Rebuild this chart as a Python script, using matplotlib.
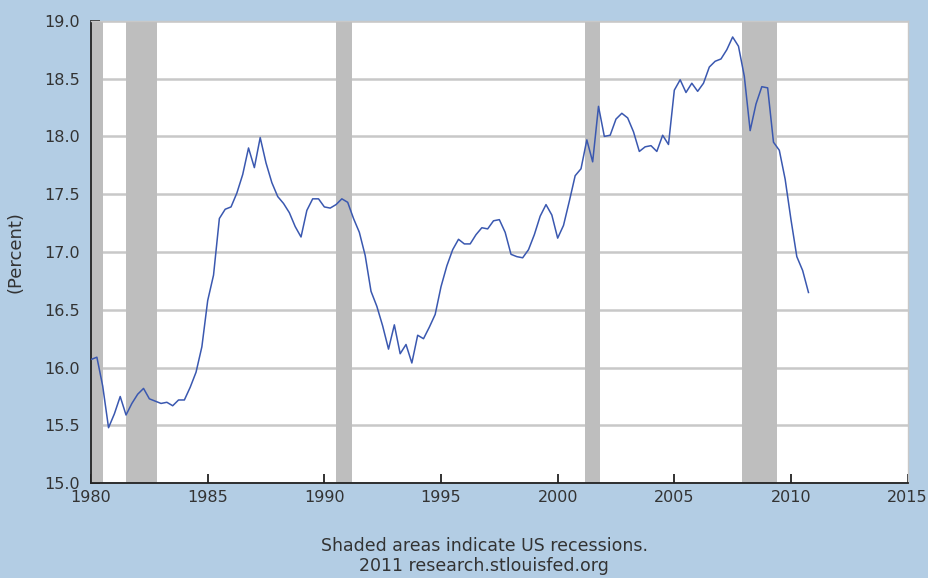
import numpy as np
import matplotlib.pyplot as plt

# quarterly values, 1980Q1 .. 2010Q4
start_year = 1980
values = [
    16.07, 16.09, 15.84, 15.48, 15.60, 15.75, 15.59, 15.69,
    15.77, 15.82, 15.73, 15.71, 15.69, 15.70, 15.67, 15.72,
    15.72, 15.83, 15.96, 16.18, 16.58, 16.80, 17.29, 17.37,
    17.39, 17.51, 17.67, 17.90, 17.73, 17.99, 17.77, 17.60,
    17.48, 17.42, 17.34, 17.22, 17.13, 17.36, 17.46, 17.46,
    17.39, 17.38, 17.41, 17.46, 17.43, 17.29, 17.17, 16.97,
    16.66, 16.53, 16.36, 16.16, 16.37, 16.12, 16.20, 16.04,
    16.28, 16.25, 16.35, 16.46, 16.70, 16.88, 17.02, 17.11,
    17.07, 17.07, 17.15, 17.21, 17.20, 17.27, 17.28, 17.17,
    16.98, 16.96, 16.95, 17.02, 17.15, 17.31, 17.41, 17.32,
    17.12, 17.23, 17.44, 17.66, 17.72, 17.97, 17.78, 18.26,
    18.00, 18.01, 18.15, 18.20, 18.16, 18.04, 17.87, 17.91,
    17.92, 17.87, 18.01, 17.93, 18.40, 18.49, 18.38, 18.46,
    18.39, 18.46, 18.60, 18.65, 18.67, 18.75, 18.86, 18.78,
    18.52, 18.05, 18.28, 18.43, 18.42, 17.95, 17.88, 17.63,
    17.28, 16.96, 16.84, 16.65,
]
recessions = [(1980.0, 1980.5), (1981.5, 1982.83), (1990.5, 1991.17),
              (2001.17, 2001.83), (2007.92, 2009.42)]
x_ticks = [1980, 1985, 1990, 1995, 2000, 2005, 2010, 2015]
y_ticks = [15.0, 15.5, 16.0, 16.5, 17.0, 17.5, 18.0, 18.5, 19.0]

t = start_year + np.arange(len(values)) / 4.0

bg = '#b3cde4'
fig = plt.figure(figsize=(9.29, 5.78), dpi=100, facecolor=bg)
ax = fig.add_axes([0.098, 0.164, 0.879, 0.800])
ax.set_facecolor('white')

for y in y_ticks:
    ax.axhline(y, color='#c8c8c8', lw=1.8, zorder=1)
for a, b in recessions:
    ax.axvspan(a, b, color='#bebebe', lw=0, zorder=2)

ax.plot(t, values, color='#3a58b0', lw=1.1, zorder=3)

ax.set_xlim(1980, 2015)
ax.set_ylim(15.0, 19.0)
ax.set_xticks(x_ticks)
ax.set_yticks(y_ticks)
ax.set_yticklabels([f"{v:.1f}" for v in y_ticks])
ax.tick_params(direction='in', length=6.5, width=1.3, color='#222222',
               labelsize=11.5, labelcolor='#333333')
ax.tick_params(axis='y', pad=8)
ax.tick_params(axis='x', pad=5)

for s in ['left', 'bottom']:
    ax.spines[s].set_color('#222222')
    ax.spines[s].set_linewidth(1.3)
for s in ['top', 'right']:
    ax.spines[s].set_color('#c8c8c8')
    ax.spines[s].set_linewidth(1.0)

ax.set_ylabel("(Percent)", fontsize=13, color='#333333', labelpad=14)

fig.text(0.521, 0.056, "Shaded areas indicate US recessions.", ha='center',
         va='center', fontsize=12.5, color='#333333')
fig.text(0.521, 0.021, "2011 research.stlouisfed.org", ha='center',
         va='center', fontsize=12.5, color='#333333')

fig.savefig("out.png", dpi=100, facecolor=bg)
